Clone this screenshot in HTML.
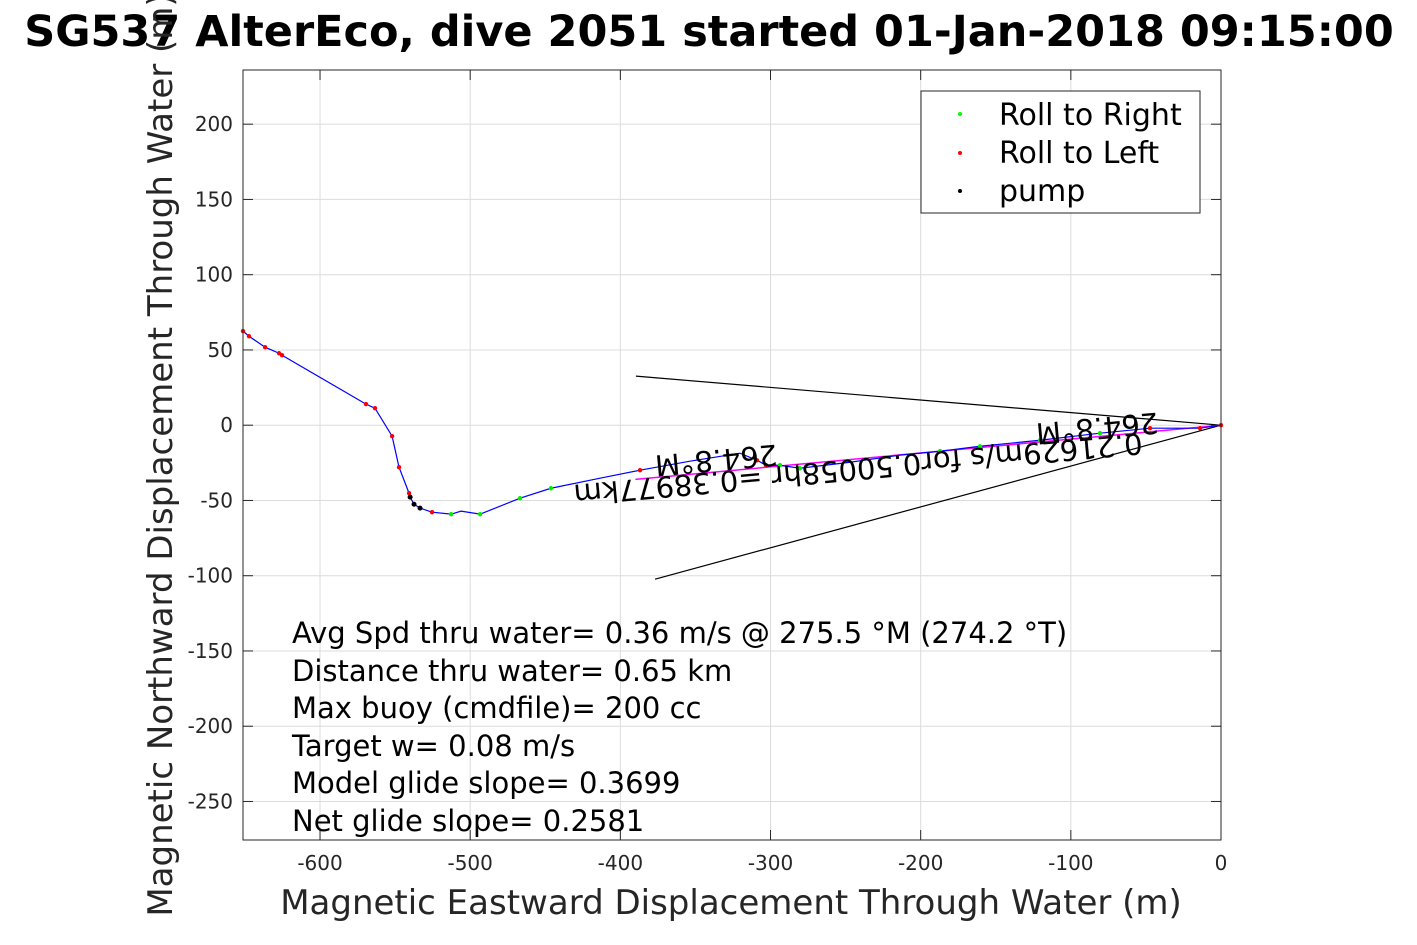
<!DOCTYPE html>
<html><head><meta charset="utf-8"><style>
body{margin:0;background:#fff}
svg{display:block;font-family:"DejaVu Sans","Liberation Sans",sans-serif}
</style></head><body>
<svg id="chart" width="1417" height="945" viewBox="0 0 1417 945" xmlns="http://www.w3.org/2000/svg">
<rect width="1417" height="945" fill="#fff"/>
<text x="709" y="46" text-anchor="middle" font-size="43" font-weight="bold">SG537 AlterEco, dive 2051 started 01-Jan-2018 09:15:00</text>
<g id="grid"></g>
<g id="marks"></g>
<rect x="243" y="70" width="978" height="770" fill="none" stroke="#262626" stroke-width="1"/>
<g id="ticks"></g>
<text x="731" y="914" text-anchor="middle" font-size="34" fill="#262626">Magnetic Eastward Displacement Through Water (m)</text>
<text transform="translate(172,455) rotate(-90)" text-anchor="middle" font-size="34" fill="#262626">Magnetic Northward Displacement Through Water (m)</text>
<g>
<rect x="921" y="91" width="279" height="122" fill="#fff" stroke="#262626" stroke-width="1"/>
<circle cx="960" cy="114" r="2" fill="#00ff00"/>
<text x="999" y="125" font-size="30">Roll to Right</text>
<circle cx="960" cy="153" r="2" fill="#ff0000"/>
<text x="999" y="163" font-size="30">Roll to Left</text>
<circle cx="960" cy="191" r="2" fill="#000"/>
<text x="999" y="201" font-size="30">pump</text>
</g>
<g font-size="29">
<text x="292" y="643">Avg Spd thru water=  0.36 m/s @ 275.5 °M (274.2 °T)</text>
<text x="292" y="681">Distance thru water=  0.65 km</text>
<text x="292" y="718">Max buoy (cmdfile)= 200 cc</text>
<text x="292" y="756">Target w= 0.08 m/s</text>
<text x="292" y="793">Model glide slope= 0.3699</text>
<text x="292" y="831">Net glide slope= 0.2581</text>
</g>
<g font-size="29">
<text transform="translate(858,467) rotate(174.8)" text-anchor="middle" dominant-baseline="middle">0.21629m/s for0.50058hr =0.38977km</text>
<text transform="translate(1097,426) rotate(174.8)" text-anchor="middle" dominant-baseline="middle">264.8°M</text>
<text transform="translate(716,458) rotate(174.8)" text-anchor="middle" dominant-baseline="middle">264.8°M</text>
</g>
<script>
const xTicks=[-600,-500,-400,-300,-200,-100,0];
const yTicks=[200,150,100,50,0,-50,-100,-150,-200,-250];
const trackX=[-651.3,-647.3,-636.6,-627.3,-625.3,-569.4,-563.4,-552.0,-547.4,-540.7,-540.0,-537.4,-533.4,-525.4,-512.7,-506.1,-493.4,-466.8,-446.2,-413.5,-386.9,-353.6,-320.3,-309.0,-303.0,-293.7,-280.4,-247.1,-213.8,-187.1,-160.5,-120.5,-80.6,-47.3,-14.0,0];
const trackY=[62.5,59.1,51.8,47.8,46.5,14.0,11.3,-7.3,-27.9,-45.2,-47.8,-52.5,-55.1,-57.8,-59.1,-57.1,-59.1,-48.5,-41.9,-35.2,-29.9,-23.9,-18.6,-23.3,-26.6,-26.6,-28.6,-24.6,-19.9,-17.3,-14.0,-10.0,-5.3,-2.0,-2.0,0];
const leftRollIdx=[0,1,2,3,4,5,6,7,8,9,10,13,20,23,24,33,34,35];
const rightRollIdx=[12,14,16,17,18,25,26,29,30,31,32];
const pumpIdx=[10,11,12];
const arrowEndX=[-389.6,-376.9];
const arrowEndY=[32.6,-102.3];
const X0=243,X1=1221,XMIN=-651.3,XMAX=0,Y0=70,Y1=840,YMAX=236,YMIN=-275.6;
const sx=v=>X0+(v-XMIN)/(XMAX-XMIN)*(X1-X0);
const sy=v=>Y0+(YMAX-v)/(YMAX-YMIN)*(Y1-Y0);
const NS="http://www.w3.org/2000/svg";
function mk(tag,parent,attrs){const e=document.createElementNS(NS,tag);for(const k in attrs)e.setAttribute(k,attrs[k]);parent.appendChild(e);return e;}
const grid=document.getElementById('grid'),ticks=document.getElementById('ticks'),marks=document.getElementById('marks');
xTicks.forEach(t=>{const x=sx(t);
 const g=mk('line',grid,{x1:x,x2:x,y1:Y0,y2:Y1,stroke:'#dcdcdc','stroke-width':1});
 
 
 mk('line',ticks,{x1:x,x2:x,y1:Y1,y2:Y1-10,stroke:'#262626'});
 mk('line',ticks,{x1:x,x2:x,y1:Y0,y2:Y0+10,stroke:'#262626'});
 const l=mk('text',ticks,{x:x,y:870,'text-anchor':'middle','font-size':20,fill:'#262626'});
 l.textContent=t;
 
 });
yTicks.forEach(t=>{const y=sy(t);
 const g=mk('line',grid,{x1:X0,x2:X1,y1:y,y2:y,stroke:'#dcdcdc','stroke-width':1});
 
 
 mk('line',ticks,{x1:X0,x2:X0+10,y1:y,y2:y,stroke:'#262626'});
 mk('line',ticks,{x1:X1,x2:X1-10,y1:y,y2:y,stroke:'#262626'});
 const l=mk('text',ticks,{x:233,y:y+7,'text-anchor':'end','font-size':20,fill:'#262626'});
 l.textContent=t;
 
 });
arrowEndX.forEach((ex,i)=>{const a=mk('line',marks,{x1:sx(0),y1:sy(0),x2:sx(ex),y2:sy(arrowEndY[i]),stroke:'#000','stroke-width':1.2});
 
 });
const mg=mk('line',marks,{x1:sx(0),y1:sy(0),x2:sx(-390),y2:sy(-36),stroke:'#ff00ff','stroke-width':1.5});


const tr=mk('polyline',marks,{points:trackX.map((x,i)=>sx(x)+','+sy(trackY[i])).join(' '),fill:'none',stroke:'#0000ff','stroke-width':1.2});


function dots(idx,col,name,r){idx.forEach(i=>{const c=mk('circle',marks,{cx:sx(trackX[i]),cy:sy(trackY[i]),r:r,fill:col});
 
 });}
dots(leftRollIdx,'#ff0000','roll-left-point',2.2);
dots(rightRollIdx,'#00ee00','roll-right-point',2.2);
dots(pumpIdx,'#000','pump-point',2.5);
</script>
</svg>
</body></html>
